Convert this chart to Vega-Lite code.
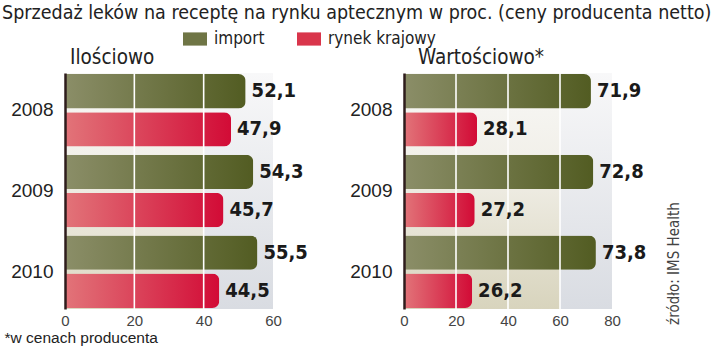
{
  "$schema": "https://vega.github.io/schema/vega-lite/v6.json",
  "background": "white",
  "padding": {"left": 2, "top": 2, "right": 5, "bottom": 0},
  "config": {
    "view": {"stroke": null},
    "locale": {"number": {"decimal": ",", "thousands": " ", "grouping": [3], "currency": ["", " zł"]}},
    "font": "Liberation Sans"
  },
  "title": {
    "text": "Sprzedaż leków na receptę na rynku aptecznym w proc. (ceny producenta netto)",
    "anchor": "start",
    "frame": "group",
    "dx": -63,
    "font": "DejaVu Sans Condensed, sans-serif",
    "fontSize": 19.5,
    "fontWeight": "normal",
    "color": "#222222",
    "offset": 4
  },
  "datasets": {
    "sales": [
      {"panel": "Ilościowo", "year": "2008", "series": "import", "value": 52.1},
      {"panel": "Ilościowo", "year": "2008", "series": "rynek krajowy", "value": 47.9},
      {"panel": "Ilościowo", "year": "2009", "series": "import", "value": 54.3},
      {"panel": "Ilościowo", "year": "2009", "series": "rynek krajowy", "value": 45.7},
      {"panel": "Ilościowo", "year": "2010", "series": "import", "value": 55.5},
      {"panel": "Ilościowo", "year": "2010", "series": "rynek krajowy", "value": 44.5},
      {"panel": "Wartościowo", "year": "2008", "series": "import", "value": 71.9},
      {"panel": "Wartościowo", "year": "2008", "series": "rynek krajowy", "value": 28.1},
      {"panel": "Wartościowo", "year": "2009", "series": "import", "value": 72.8},
      {"panel": "Wartościowo", "year": "2009", "series": "rynek krajowy", "value": 27.2},
      {"panel": "Wartościowo", "year": "2010", "series": "import", "value": 73.8},
      {"panel": "Wartościowo", "year": "2010", "series": "rynek krajowy", "value": 26.2}
    ],
    "one": [{"k": 1}]
  },
  "hconcat": [
    {
      "width": 208,
      "height": 236,
      "title": {"text": "Ilościowo", "anchor": "start", "frame": "group", "dx": 5, "offset": 4, "font": "DejaVu Sans Condensed, sans-serif", "fontSize": 20.5, "fontWeight": "normal", "color": "#222222"},
      "layer": [
        {
          "data": {"name": "one"},
          "mark": {"type": "rect", "fill": {"gradient": "linear", "x1": 0, "y1": 0, "x2": 0, "y2": 1, "stops": [{"offset": 0, "color": "#f8f8f9"}, {"offset": 1, "color": "#d9dce2"}]}},
          "encoding": {
            "x": {"datum": 0, "type": "quantitative", "scale": {"domain": [0, 60]}},
            "x2": {"datum": 60}
          }
        },
        {
          "data": {"name": "one"},
          "mark": {"type": "rect", "fill": {"gradient": "linear", "x1": 0, "y1": 0, "x2": 0, "y2": 1, "stops": [{"offset": 0, "color": "#f8f8f6"}, {"offset": 0.4, "color": "#f1efe8"}, {"offset": 1, "color": "#dcd8c2"}]}},
          "encoding": {
            "x": {"datum": 0, "type": "quantitative"},
            "x2": {"datum": 40}
          }
        },
        {
          "data": {"name": "sales"},
          "transform": [{"filter": "datum.panel === 'Ilościowo'"}],
          "mark": {"type": "bar", "cornerRadiusEnd": 7, "opacity": 0},
          "encoding": {
            "y": {"field": "year", "type": "nominal", "scale": {"paddingInner": 0.1, "paddingOuter": 0.0125},
              "axis": {"title": null, "orient": "left", "ticks": false, "grid": false, "domain": true, "domainColor": "#2e1c1c", "domainWidth": 2.5, "labelFont": "Liberation Sans", "labelFontSize": 19, "labelColor": "#222222", "labelPadding": 12, "zindex": 1}},
            "yOffset": {"field": "series", "type": "nominal", "scale": {"paddingInner": 0.1, "paddingOuter": 0}},
            "x": {"field": "value", "type": "quantitative", "scale": {"domain": [0, 60]},
              "axis": {"values": [0, 20, 40, 60], "ticks": false, "domain": false, "grid": false, "labelFlush": false, "labelFont": "Liberation Sans", "labelFontSize": 15, "labelColor": "#444444", "labelPadding": 4,
                "title": "*w cenach producenta", "titleFont": "Liberation Sans", "titleFontSize": 15.5, "titleFontWeight": "normal", "titleColor": "#222222", "titleAnchor": "start", "titleAlign": "left", "titleBaseline": "alphabetic", "titleX": -61, "titleY": 33.5}},
            "color": {"field": "series", "type": "nominal",
              "scale": {"domain": ["import", "rynek krajowy"], "range": ["#6f7545", "#d9354b"]},
              "legend": {"orient": "none", "legendX": 118, "legendY": -46, "direction": "horizontal", "title": null,
                "symbolType": "M-1,-0.55 L1,-0.55 L1,0.55 L-1,0.55 Z", "symbolSize": 576, "symbolStrokeWidth": 0, "symbolOpacity": 1,
                "labelFont": "DejaVu Sans Condensed, sans-serif", "labelFontSize": 17, "labelColor": "#222222", "labelOffset": 7, "columnPadding": 32}}
          }
        },
        {
          "data": {"name": "sales"},
          "transform": [{"filter": "datum.panel === 'Ilościowo' && datum.series === 'import'"}],
          "mark": {"type": "bar", "cornerRadiusEnd": 7, "fill": {"gradient": "linear", "x1": 0, "y1": 0, "x2": 1, "y2": 0, "stops": [{"offset": 0, "color": "#8b8e68"}, {"offset": 1, "color": "#525c22"}]}},
          "encoding": {
            "y": {"field": "year", "type": "nominal"},
            "yOffset": {"field": "series", "type": "nominal"},
            "x": {"field": "value", "type": "quantitative"}
          }
        },
        {
          "data": {"name": "sales"},
          "transform": [{"filter": "datum.panel === 'Ilościowo' && datum.series === 'rynek krajowy'"}],
          "mark": {"type": "bar", "cornerRadiusEnd": 7, "fill": {"gradient": "linear", "x1": 0, "y1": 0, "x2": 1, "y2": 0, "stops": [{"offset": 0, "color": "#e27479"}, {"offset": 1, "color": "#d20b36"}]}},
          "encoding": {
            "y": {"field": "year", "type": "nominal"},
            "yOffset": {"field": "series", "type": "nominal"},
            "x": {"field": "value", "type": "quantitative"}
          }
        },
        {
          "data": {"name": "one"},
          "mark": {"type": "rule", "color": "#ffffff", "strokeWidth": 1.6},
          "encoding": {"x": {"datum": 20, "type": "quantitative"}}
        },
        {
          "data": {"name": "one"},
          "mark": {"type": "rule", "color": "#ffffff", "strokeWidth": 1.6},
          "encoding": {"x": {"datum": 40, "type": "quantitative"}}
        },
        {
          "data": {"name": "sales"},
          "transform": [{"filter": "datum.panel === 'Ilościowo'"}],
          "mark": {"type": "text", "align": "left", "baseline": "middle", "dx": 6, "font": "DejaVu Sans Condensed, sans-serif", "fontWeight": "bold", "fontSize": 20, "color": "#1a1a1a"},
          "encoding": {
            "y": {"field": "year", "type": "nominal"},
            "yOffset": {"field": "series", "type": "nominal"},
            "x": {"field": "value", "type": "quantitative"},
            "text": {"field": "value", "type": "quantitative", "format": ".1f"}
          }
        }
      ]
    },
    {
      "width": 208,
      "height": 236,
      "title": {"text": "Wartościowo*", "anchor": "start", "frame": "group", "dx": 14, "offset": 4, "font": "DejaVu Sans Condensed, sans-serif", "fontSize": 20.5, "fontWeight": "normal", "color": "#222222"},
      "resolve": {"axis": {"y": "independent"}},
      "layer": [
        {
          "data": {"name": "one"},
          "mark": {"type": "rect", "fill": {"gradient": "linear", "x1": 0, "y1": 0, "x2": 0, "y2": 1, "stops": [{"offset": 0, "color": "#f8f8f9"}, {"offset": 1, "color": "#d9dce2"}]}},
          "encoding": {
            "x": {"datum": 0, "type": "quantitative", "scale": {"domain": [0, 80]}},
            "x2": {"datum": 80}
          }
        },
        {
          "data": {"name": "one"},
          "mark": {"type": "rect", "fill": {"gradient": "linear", "x1": 0, "y1": 0, "x2": 0, "y2": 1, "stops": [{"offset": 0, "color": "#f8f8f6"}, {"offset": 0.4, "color": "#f1efe8"}, {"offset": 1, "color": "#d8d4bd"}]}},
          "encoding": {
            "x": {"datum": 0, "type": "quantitative"},
            "x2": {"datum": 60}
          }
        },
        {
          "data": {"name": "sales"},
          "transform": [{"filter": "datum.panel === 'Wartościowo'"}],
          "mark": {"type": "bar", "cornerRadiusEnd": 7, "opacity": 0},
          "encoding": {
            "y": {"field": "year", "type": "nominal", "scale": {"paddingInner": 0.1, "paddingOuter": 0.0125},
              "axis": {"title": null, "orient": "left", "ticks": false, "grid": false, "domain": true, "domainColor": "#2e1c1c", "domainWidth": 2.5, "labelFont": "Liberation Sans", "labelFontSize": 19, "labelColor": "#222222", "labelPadding": 12, "zindex": 1}},
            "yOffset": {"field": "series", "type": "nominal", "scale": {"paddingInner": 0.1, "paddingOuter": 0}},
            "x": {"field": "value", "type": "quantitative", "scale": {"domain": [0, 80]},
              "axis": {"values": [0, 20, 40, 60, 80], "ticks": false, "domain": false, "grid": false, "labelFlush": false, "labelFont": "Liberation Sans", "labelFontSize": 15, "labelColor": "#444444", "labelPadding": 4, "title": null}},
            "color": {"field": "series", "type": "nominal",
              "legend": {"orient": "none", "legendX": 118, "legendY": -46, "direction": "horizontal", "title": null,
                "symbolType": "M-1,-0.55 L1,-0.55 L1,0.55 L-1,0.55 Z", "symbolSize": 576, "symbolStrokeWidth": 0, "symbolOpacity": 1,
                "labelFont": "DejaVu Sans Condensed, sans-serif", "labelFontSize": 17, "labelColor": "#222222", "labelOffset": 7, "columnPadding": 32}}
          }
        },
        {
          "data": {"name": "sales"},
          "transform": [{"filter": "datum.panel === 'Wartościowo' && datum.series === 'import'"}],
          "mark": {"type": "bar", "cornerRadiusEnd": 7, "fill": {"gradient": "linear", "x1": 0, "y1": 0, "x2": 1, "y2": 0, "stops": [{"offset": 0, "color": "#8b8e68"}, {"offset": 1, "color": "#525c22"}]}},
          "encoding": {
            "y": {"field": "year", "type": "nominal", "axis": null},
            "yOffset": {"field": "series", "type": "nominal"},
            "x": {"field": "value", "type": "quantitative"}
          }
        },
        {
          "data": {"name": "sales"},
          "transform": [{"filter": "datum.panel === 'Wartościowo' && datum.series === 'rynek krajowy'"}],
          "mark": {"type": "bar", "cornerRadiusEnd": 7, "fill": {"gradient": "linear", "x1": 0, "y1": 0, "x2": 1, "y2": 0, "stops": [{"offset": 0, "color": "#e27479"}, {"offset": 1, "color": "#d20b36"}]}},
          "encoding": {
            "y": {"field": "year", "type": "nominal", "axis": null},
            "yOffset": {"field": "series", "type": "nominal"},
            "x": {"field": "value", "type": "quantitative"}
          }
        },
        {
          "data": {"name": "one"},
          "mark": {"type": "rule", "color": "#ffffff", "strokeWidth": 1.6},
          "encoding": {"x": {"datum": 20, "type": "quantitative"}}
        },
        {
          "data": {"name": "one"},
          "mark": {"type": "rule", "color": "#ffffff", "strokeWidth": 1.6},
          "encoding": {"x": {"datum": 40, "type": "quantitative"}}
        },
        {
          "data": {"name": "one"},
          "mark": {"type": "rule", "color": "#ffffff", "strokeWidth": 1.6},
          "encoding": {"x": {"datum": 60, "type": "quantitative"}}
        },
        {
          "data": {"name": "sales"},
          "transform": [{"filter": "datum.panel === 'Wartościowo'"}],
          "mark": {"type": "text", "align": "left", "baseline": "middle", "dx": 6, "font": "DejaVu Sans Condensed, sans-serif", "fontWeight": "bold", "fontSize": 20, "color": "#1a1a1a"},
          "encoding": {
            "y": {"field": "year", "type": "nominal",
              "axis": {"orient": "right", "labels": false, "ticks": false, "domain": false, "grid": false,
                "title": "źródło: IMS Health", "titleAngle": 270, "titleFont": "DejaVu Sans Condensed, sans-serif", "titleFontSize": 15, "titleFontWeight": "normal", "titleColor": "#444444", "titleX": 61, "titleY": 190, "titleAlign": "center", "titleBaseline": "middle"}},
            "yOffset": {"field": "series", "type": "nominal"},
            "x": {"field": "value", "type": "quantitative"},
            "text": {"field": "value", "type": "quantitative", "format": ".1f"}
          }
        }
      ]
    }
  ],
  "spacing": 131,
  "bounds": "flush"
}
